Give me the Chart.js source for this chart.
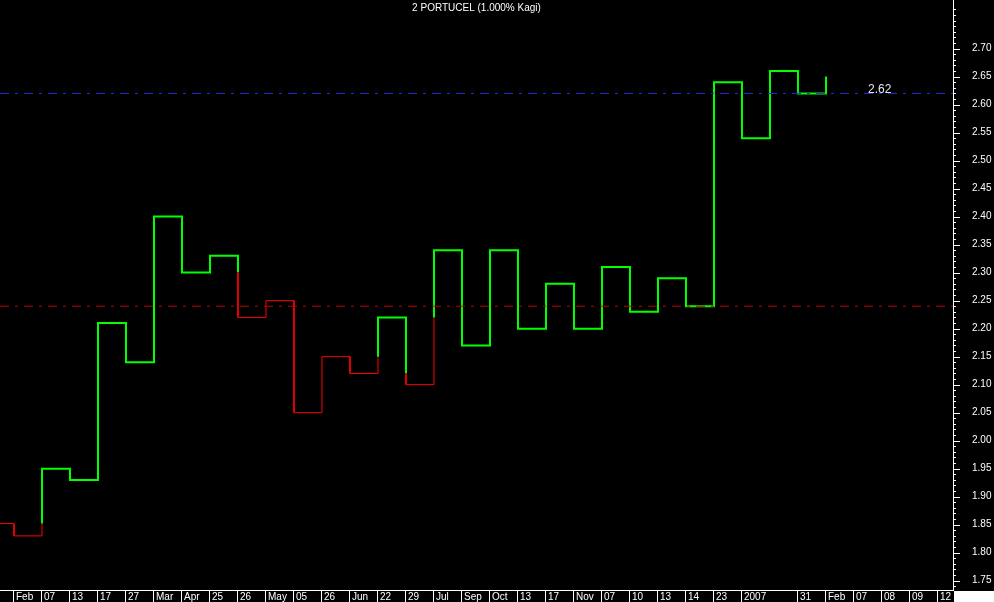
<!DOCTYPE html>
<html>
<head>
<meta charset="utf-8">
<script src="https://cdn.jsdelivr.net/npm/chart.js@4.4.0/dist/chart.umd.min.js"></script>
<style>
html,body{margin:0;padding:0;background:#000;overflow:hidden}
#wrap{width:994px;height:602px;position:relative}
</style>
</head>
<body>
<div id="wrap"><canvas id="c" width="994" height="602"></canvas></div>
<script>
// ---- data ----
const chartTitle = '2 PORTUCEL (1.000% Kagi)';
const xLabels = ['Feb','07','13','17','27','Mar','Apr','25','26','May','05','26','Jun','22','29','Jul','Sep','Oct','13','17','Nov','07','10','13','14','23','2007','','31','Feb','07','08','09','12'];
// kagi levels: first is the opening level, each next one is reached by a vertical move
const kagiValues = [1.852, 1.83, 1.95, 1.93, 2.21, 2.14, 2.40, 2.30, 2.33, 2.22, 2.25, 2.05, 2.15, 2.12, 2.22, 2.10, 2.34, 2.17, 2.34, 2.20, 2.28, 2.20, 2.31, 2.23, 2.29, 2.24, 2.64, 2.54, 2.66, 2.62, 2.65];
const refLevels = [2.24, 2.62];
const yTickValues = [1.75,1.80,1.85,1.90,1.95,2.00,2.05,2.10,2.15,2.20,2.25,2.30,2.35,2.40,2.45,2.50,2.55,2.60,2.65,2.70];

// ---- styles ----
const GREEN = '#00ff00', RED = '#ff0000', WHITE = '#ffffff';
const FONT = "'Liberation Sans', Arial, sans-serif";
const X_MIN = -0.5, X_MAX = 33.536, Y_MIN = 1.7334, Y_MAX = 2.7867;

// ---- build kagi polyline with yang/yin segment flags ----
const pts = [];
const segYang = [];
let yang = false;
pts.push({x: X_MIN, y: kagiValues[0]});
function add(x, y, s) { segYang.push(s); pts.push({x, y}); }
add(0, kagiValues[0], yang);
for (let k = 1; k < kagiValues.length; k++) {
  const x = k - 1, v = kagiValues[k], p = kagiValues[k - 1];
  if (k >= 2) {
    const ref = kagiValues[k - 2];
    if (v > p && !yang && v > ref) { add(x, ref, false); yang = true; }
    else if (v < p && yang && v < ref) { add(x, ref, true); yang = false; }
  }
  add(x, v, yang);
  if (k < kagiValues.length - 1) add(k, v, yang);
}

const refColors = ['#c00000', '#2a2ae6'];
const refSets = refLevels.map((lv, i) => ({
  data: [{x: X_MIN, y: lv}, {x: X_MAX, y: lv}],
  borderColor: refColors[i],
  borderWidth: 1,
  borderDash: [9, 6, 3, 6],
  pointRadius: 0,
  order: 1
}));

const decor = {
  id: 'decor',
  beforeDraw(chart) {
    const c = chart.ctx;
    c.save();
    c.fillStyle = '#000';
    c.fillRect(0, 0, chart.width, chart.height);
    c.restore();
  },
  afterDraw(chart) {
    const c = chart.ctx, ys = chart.scales.y, xs = chart.scales.x, ca = chart.chartArea;
    c.save();
    // minor / major tick marks on the right axis
    c.strokeStyle = WHITE; c.lineWidth = 1;
    for (let cents = 174; cents <= 278; cents++) {
      const py = Math.round(ys.getPixelForValue(cents / 100)) + 0.5;
      if (py < 7 || py > ca.bottom) continue;
      const major = cents % 5 === 0 && cents >= 175 && cents <= 270;
      c.beginPath();
      c.moveTo(ca.right, py);
      c.lineTo(ca.right + (major ? 7 : 3), py);
      c.stroke();
    }
    // bottom right corner
    c.fillStyle = WHITE;
    c.fillRect(ca.right + 1, ca.bottom + 1, chart.width - ca.right, chart.height - ca.bottom);
    // title
    c.fillStyle = WHITE;
    c.font = '10px ' + FONT;
    c.textAlign = 'center'; c.textBaseline = 'middle';
    c.fillText(chartTitle, (ca.left + ca.right) / 2, 8);
    // last level label
    c.fillStyle = '#e8e8e8';
    c.font = '12px ' + FONT;
    c.textAlign = 'left'; c.textBaseline = 'alphabetic';
    c.fillText(refLevels[1].toFixed(2), xs.getPixelForValue(30.5), ys.getPixelForValue(refLevels[1]) - 0.5);
    c.restore();
  }
};

new Chart(document.getElementById('c'), {
  type: 'line',
  data: {
    datasets: [
      ...refSets,
      {
        data: pts,
        borderColor: RED,
        borderWidth: 1,
        pointRadius: 0,
        tension: 0,
        order: 2,
        segment: {
          borderColor: ctx => segYang[ctx.p0DataIndex] ? GREEN : RED,
          borderWidth: ctx => segYang[ctx.p0DataIndex] ? 2 : 1
        }
      }
    ]
  },
  options: {
    responsive: false,
    devicePixelRatio: 1,
    animation: false,
    events: [],
    layout: {padding: 0},
    plugins: {legend: {display: false}, tooltip: {enabled: false}, title: {display: false}},
    scales: {
      x: {
        type: 'linear',
        position: 'bottom',
        min: X_MIN,
        max: X_MAX,
        afterBuildTicks: s => { s.ticks = xLabels.map((_, i) => ({value: i})); },
        afterFit: s => { s.height = 12; s.paddingLeft = 0; s.paddingRight = 0; },
        border: {display: true, color: WHITE, width: 1},
        grid: {
          display: true,
          drawOnChartArea: false,
          drawTicks: true,
          tickLength: 12,
          tickColor: ctx => (ctx.tick && xLabels[ctx.tick.value] === '') ? 'rgba(0,0,0,0)' : WHITE
        },
        ticks: {
          autoSkip: false,
          maxRotation: 0,
          minRotation: 0,
          align: 'start',
          labelOffset: 2,
          padding: -11,
          color: WHITE,
          font: {family: FONT, size: 10},
          callback: v => xLabels[v] !== undefined ? xLabels[v] : ''
        }
      },
      y: {
        type: 'linear',
        position: 'right',
        min: Y_MIN,
        max: Y_MAX,
        afterBuildTicks: s => { s.ticks = yTickValues.map(v => ({value: v})); },
        afterFit: s => { s.width = 41; s.paddingTop = 0; s.paddingBottom = 0; },
        border: {display: true, color: WHITE, width: 1},
        grid: {display: false, drawTicks: false, tickLength: 0},
        ticks: {
          autoSkip: false,
          crossAlign: 'near',
          padding: 19,
          color: WHITE,
          font: {family: FONT, size: 10},
          callback: v => Number(v).toFixed(2)
        }
      }
    }
  },
  plugins: [decor]
});
</script>
</body>
</html>
